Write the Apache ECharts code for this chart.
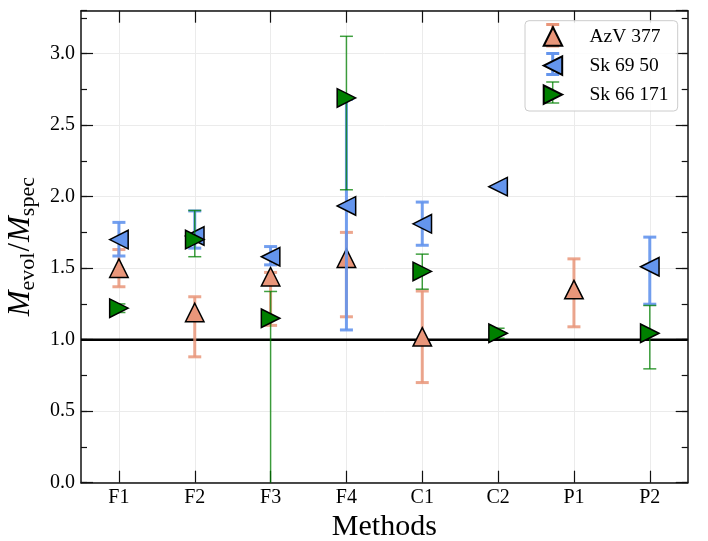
<!DOCTYPE html>
<html>
<head>
<meta charset="utf-8">
<script src="https://cdn.jsdelivr.net/npm/echarts@6/dist/echarts.min.js"></script>
<style>
  html, body { margin: 0; padding: 0; background: #fff; }
  #chart { width: 708px; height: 541px; }
</style>
</head>
<body>
<div id="chart"></div>
<script>
// Method labels along the x axis
const methods = ['F1', 'F2', 'F3', 'F4', 'C1', 'C2', 'P1', 'P2'];

// AzV 377: mass ratio with lower / upper error limits
const azvValue = [1.50, 1.19, 1.44, 1.57, 1.02, null, 1.35, null];
const azvLow   = [1.37, 0.88, 1.10, 1.16, 0.70, null, 1.09, null];
const azvHigh  = [1.63, 1.30, 1.47, 1.75, 1.34, null, 1.565, null];

// Sk 69 50
const sk69Value = [1.70, 1.725, 1.58, 1.935, 1.81, 2.07, null, 1.51];
const sk69Low   = [1.585, 1.64, 1.523, 1.068, 1.66, null, null, 1.248];
const sk69High  = [1.82, 1.90, 1.651, 2.68, 1.962, null, null, 1.717];

// Sk 66 171
const sk66Value = [1.22, 1.70, 1.15, 2.69, 1.477, 1.045, null, 1.045];
const sk66Low   = [1.19, 1.58, -0.10, 2.048, 1.353, 1.01, null, 0.796];
const sk66High  = [1.25, 1.903, 1.337, 3.121, 1.598, 1.08, null, 1.239];

// Reference ratio line
const unityRatio = [1.0];

// y axis range and tick steps
const yMin = 0, yMax = 3.3, yMajor = 0.5, yMinor = 0.25;

const FONT = 'Liberation Serif';
const COLORS = {
  azv: '#E9967A',
  sk69: '#6495ED',
  sk66: '#008000'
};

function points(values) {
  const out = [];
  values.forEach((v, i) => { if (v != null) out.push([i, v]); });
  return out;
}
function ranges(low, high) {
  const out = [];
  low.forEach((l, i) => { if (l != null && high[i] != null) out.push([i, l, high[i]]); });
  return out;
}

function errorBars(name, low, high, stroke, width, z) {
  return {
    type: 'custom',
    name: name + ' error',
    z: z,
    silent: true,
    data: ranges(low, high),
    renderItem: function (params, api) {
      const x = api.value(0);
      const top = api.coord([x, api.value(2)]);
      const bot = api.coord([x, api.value(1)]);
      const cs = params.coordSys;
      const yTop = cs.y, yBot = cs.y + cs.height;
      const half = 6.5;
      const style = { stroke: stroke, lineWidth: width, fill: null };
      const children = [{
        type: 'line',
        shape: { x1: top[0], y1: Math.max(top[1], yTop), x2: bot[0], y2: Math.min(bot[1], yBot) },
        style: style
      }];
      if (top[1] >= yTop) {
        children.push({ type: 'line', shape: { x1: top[0] - half, y1: top[1], x2: top[0] + half, y2: top[1] }, style: style });
      }
      if (bot[1] <= yBot) {
        children.push({ type: 'line', shape: { x1: bot[0] - half, y1: bot[1], x2: bot[0] + half, y2: bot[1] }, style: style });
      }
      return { type: 'group', children: children };
    }
  };
}

function markers(name, values, color, rotate, z) {
  return {
    type: 'scatter',
    name: name,
    z: z,
    symbol: 'triangle',
    symbolRotate: rotate,
    symbolSize: 18.5,
    itemStyle: { color: color, borderColor: '#000', borderWidth: 1.5, opacity: 1 },
    emphasis: { disabled: true },
    data: points(values)
  };
}

const chart = echarts.init(document.getElementById('chart'));

const tickStyle = { color: '#111', width: 1.2 };
const frameLine = { show: true, onZero: false, lineStyle: { color: '#111', width: 1.5 } };

function yAxisDef(position, interval, tickLen, withLabels) {
  const ax = {
    type: 'value',
    position: position,
    min: yMin, max: yMax, interval: interval,
    axisLine: tickLen > 6 ? frameLine : { show: false },
    axisTick: { show: true, inside: true, length: tickLen, lineStyle: tickStyle },
    axisLabel: { show: false },
    splitLine: { show: false }
  };
  if (withLabels) {
    ax.axisLabel = {
      show: true, margin: 6, showMaxLabel: false,
      fontFamily: FONT, fontSize: 20, color: '#000',
      formatter: v => v.toFixed(1)
    };
    ax.splitLine = { show: true, lineStyle: { color: '#ebebeb', width: 1 } };
    ax.name = '{m|M}{sub|evol}{s|/}{m|M}{sub|spec}';
    ax.nameLocation = 'middle';
    ax.nameRotate = 90;
    ax.nameGap = 42;
    ax.nameTextStyle = {
      fontFamily: FONT, fontSize: 31, color: '#000',
      rich: {
        m: { fontFamily: FONT, fontSize: 31, fontStyle: 'italic', lineHeight: 31, color: '#000' },
        s: { fontFamily: FONT, fontSize: 31, lineHeight: 31, color: '#000', padding: [0, 1, 0, 1] },
        sub: { fontFamily: FONT, fontSize: 22, lineHeight: 22, padding: [14, 0, 0, 0], color: '#000' }
      }
    };
  }
  return ax;
}

const option = {
  animation: false,
  backgroundColor: '#fff',
  grid: { left: 81, right: 20.3, top: 10.7, bottom: 58.3, containLabel: false, outerBoundsMode: 'none' },
  xAxis: [
    {
      type: 'category',
      data: methods,
      position: 'bottom',
      boundaryGap: true,
      axisLine: frameLine,
      axisTick: { show: true, inside: true, alignWithLabel: true, interval: 0, length: 12, lineStyle: tickStyle },
      axisLabel: { interval: 0, margin: 5, fontFamily: FONT, fontSize: 20, color: '#000' },
      splitLine: { show: true, alignWithLabel: true, interval: 0, lineStyle: { color: '#ebebeb', width: 1 } },
      name: 'Methods',
      nameLocation: 'middle',
      nameGap: 29,
      nameTextStyle: { fontFamily: FONT, fontSize: 30, color: '#000' }
    },
    {
      type: 'category',
      data: methods,
      position: 'top',
      boundaryGap: true,
      axisLine: frameLine,
      axisTick: { show: true, inside: true, alignWithLabel: true, interval: 0, length: 12, lineStyle: tickStyle },
      axisLabel: { show: false },
      splitLine: { show: false }
    }
  ],
  yAxis: [
    yAxisDef('left', yMajor, 12, true),
    yAxisDef('left', yMinor, 6, false),
    yAxisDef('right', yMajor, 12, false),
    yAxisDef('right', yMinor, 6, false)
  ],
  legend: {
    orient: 'vertical',
    left: 542.7,
    top: 26.3,
    padding: 0,
    itemWidth: 63,
    itemHeight: 18.5,
    itemGap: 8.5,
    selectedMode: false,
    symbolRotate: 0,
    z: 20,
    textStyle: { fontFamily: FONT, fontSize: 19.5, lineHeight: 17, color: '#000' },
    data: [
      { name: 'AzV 377', icon: 'path://M5,0 L10,10 L0,10 Z' },
      { name: 'Sk 69 50', icon: 'path://M0,5 L10,0 L10,10 Z' },
      { name: 'Sk 66 171', icon: 'path://M10,5 L0,0 L0,10 Z' }
    ]
  },
  graphic: [
    {
      type: 'rect', z: 15, silent: true,
      shape: { x: 525, y: 20.7, width: 152.7, height: 90.3, r: 4 },
      style: { fill: 'rgba(255,255,255,0.85)', stroke: '#cccccc', lineWidth: 1 }
    },
    {
      type: 'group', z: 16, silent: true,
      children: [
        { type: 'line', z: 16, shape: { x1: 552.7, y1: 24.5, x2: 552.7, y2: 46 }, style: { stroke: COLORS.azv, lineWidth: 3 } },
        { type: 'line', z: 16, shape: { x1: 546.2, y1: 24.5, x2: 559.2, y2: 24.5 }, style: { stroke: COLORS.azv, lineWidth: 3 } },
        { type: 'line', z: 16, shape: { x1: 546.2, y1: 46, x2: 559.2, y2: 46 }, style: { stroke: COLORS.azv, lineWidth: 3 } },
        { type: 'line', z: 16, shape: { x1: 552.7, y1: 53.5, x2: 552.7, y2: 74.5 }, style: { stroke: COLORS.sk69, lineWidth: 3 } },
        { type: 'line', z: 16, shape: { x1: 546.2, y1: 53.5, x2: 559.2, y2: 53.5 }, style: { stroke: COLORS.sk69, lineWidth: 3 } },
        { type: 'line', z: 16, shape: { x1: 546.2, y1: 74.5, x2: 559.2, y2: 74.5 }, style: { stroke: COLORS.sk69, lineWidth: 3 } },
        { type: 'line', z: 16, shape: { x1: 552.7, y1: 82, x2: 552.7, y2: 103 }, style: { stroke: 'rgba(0,128,0,0.75)', lineWidth: 1.5 } },
        { type: 'line', z: 16, shape: { x1: 546.2, y1: 82, x2: 559.2, y2: 82 }, style: { stroke: 'rgba(0,128,0,0.75)', lineWidth: 1.5 } },
        { type: 'line', z: 16, shape: { x1: 546.2, y1: 103, x2: 559.2, y2: 103 }, style: { stroke: 'rgba(0,128,0,0.75)', lineWidth: 1.5 } }
      ]
    }
  ],
  series: [
    {
      type: 'custom',
      name: 'unity',
      z: 2,
      silent: true,
      data: unityRatio.map(v => [0, v]),
      renderItem: function (params, api) {
        const p = api.coord([0, api.value(1)]);
        const cs = params.coordSys;
        return {
          type: 'line',
          shape: { x1: cs.x, y1: p[1], x2: cs.x + cs.width, y2: p[1] },
          style: { stroke: '#000', lineWidth: 2.5 }
        };
      }
    },
    errorBars('AzV 377', azvLow, azvHigh, 'rgba(233,150,122,0.85)', 3, 3),
    markers('AzV 377', azvValue, COLORS.azv, 0, 4),
    errorBars('Sk 69 50', sk69Low, sk69High, 'rgba(100,149,237,0.9)', 3, 5),
    markers('Sk 69 50', sk69Value, COLORS.sk69, 90, 6),
    errorBars('Sk 66 171', sk66Low, sk66High, 'rgba(0,128,0,0.75)', 1.5, 7),
    markers('Sk 66 171', sk66Value, COLORS.sk66, -90, 8)
  ]
};

chart.setOption(option);
</script>
</body>
</html>
